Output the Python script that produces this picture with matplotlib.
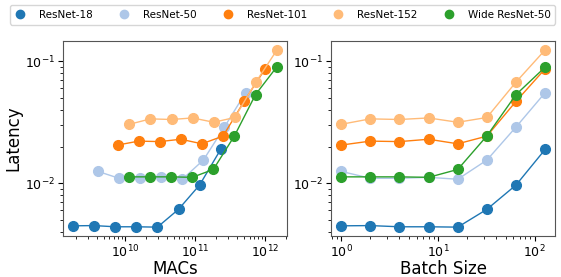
import matplotlib
matplotlib.use("Agg")
import matplotlib.pyplot as plt
import numpy as np

models = ['ResNet-18', 'ResNet-50', 'ResNet-101', 'ResNet-152', 'Wide ResNet-50']
colors = ['#1f77b4', '#aec7e8', '#ff7f0e', '#ffbb78', '#2ca02c']

batch_sizes = np.array([1, 2, 4, 8, 16, 32, 64, 128])
# MACs per image for each model
macs_per_image = [1.82e9, 4.12e9, 7.85e9, 11.58e9, 11.43e9]

lat_resnet18 = [0.00448, 0.0045, 0.0044, 0.0044, 0.00437, 0.00612, 0.00969, 0.0190]
lat_resnet50 = [0.01253, 0.0110, 0.0110, 0.0112, 0.0108, 0.01552, 0.0290, 0.0555]
lat_resnet101 = [0.0206, 0.0222, 0.0220, 0.0230, 0.0211, 0.0244, 0.0471, 0.0871]
lat_resnet152 = [0.0305, 0.0338, 0.0334, 0.0344, 0.0317, 0.0347, 0.0678, 0.1245]
lat_wide50 = [0.0113, 0.0113, 0.0113, 0.0112, 0.0130, 0.0245, 0.0535, 0.0899]
latencies = [lat_resnet18, lat_resnet50, lat_resnet101, lat_resnet152, lat_wide50]

fig, (ax1, ax2) = plt.subplots(1, 2, figsize=(5.61, 2.77), dpi=100, sharey=True)
fig.subplots_adjust(left=0.112, right=0.99, top=0.852, bottom=0.148, wspace=0.195)

for name, c, mpi, lat in zip(models, colors, macs_per_image, latencies):
    ax1.plot(batch_sizes * mpi, lat, '-o', color=c, markersize=7, linewidth=1, label=name)
    ax2.plot(batch_sizes, lat, '-o', color=c, markersize=7, linewidth=1)

for ax in (ax1, ax2):
    ax.set_xscale('log')
    ax.set_yscale('log')
    ax.tick_params(labelsize=9, pad=2)
    ax.tick_params(axis='y', which='both', labelleft=True)
    for s in ax.spines.values():
        s.set_color('#555555')

ax1.set_xlabel('MACs', fontsize=12, labelpad=0)
ax2.set_xlabel('Batch Size', fontsize=12, labelpad=0)
ax1.set_ylabel('Latency', fontsize=12, labelpad=2)

handles = [plt.Line2D([], [], marker='o', linestyle='', color=c, markersize=6) for c in colors]
fig.legend(handles, models, loc='upper left', bbox_to_anchor=(0.008, 1.0), ncol=5,
           fontsize=7.5, handletextpad=1.33, columnspacing=2.5, handlelength=1.0,
           frameon=True, fancybox=True, borderpad=0.45)

fig.savefig('out.png', dpi=100)
